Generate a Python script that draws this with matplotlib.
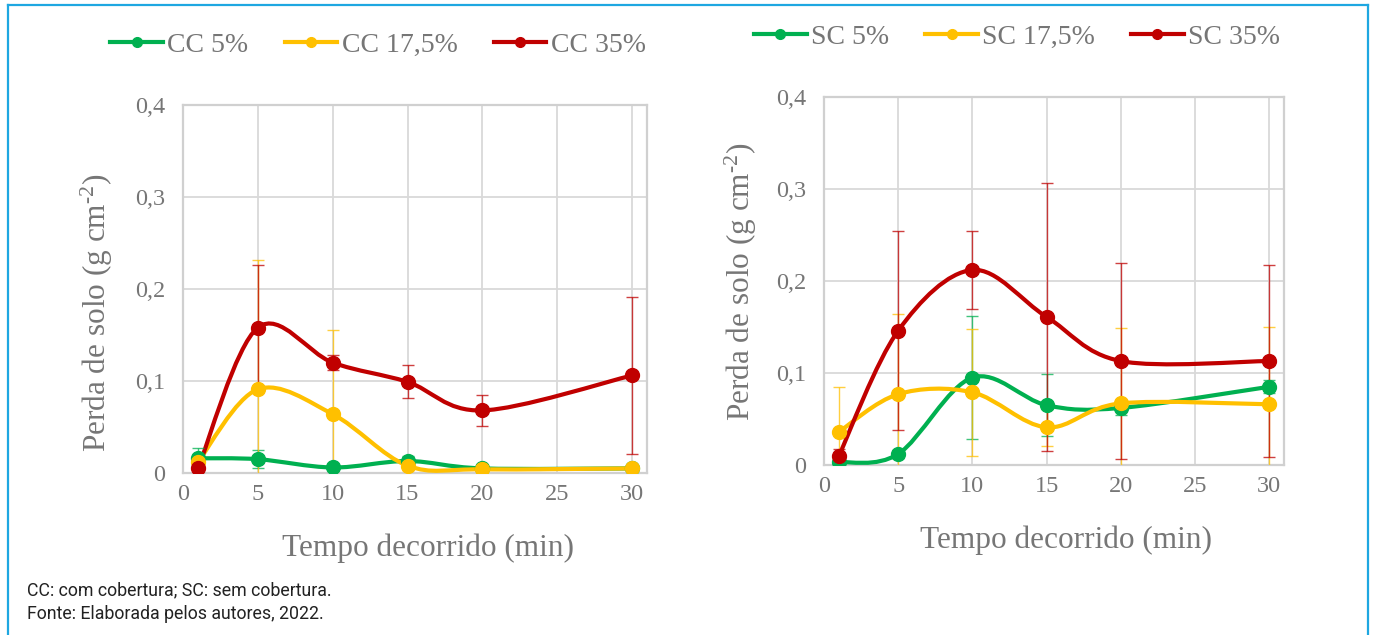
import numpy as np
import matplotlib
matplotlib.use("Agg")
import matplotlib.pyplot as plt
from matplotlib.path import Path
from matplotlib.patches import PathPatch
from matplotlib.lines import Line2D

# ---------- data ----------
TEMPO = [1, 5, 10, 15, 20, 30]

CC_5 = [0.016, 0.015, 0.006, 0.013, 0.005, 0.005]
CC_5_ERR = [0.011, 0.010, 0.002, 0.005, 0.002, 0.002]
CC_175 = [0.012, 0.091, 0.064, 0.008, 0.004, 0.005]
CC_175_ERR = [0.006, 0.141, 0.091, 0.005, 0.002, 0.002]
CC_35 = [0.005, 0.158, 0.120, 0.099, 0.068, 0.106]
CC_35_ERR = [0.003, 0.068, 0.008, 0.018, 0.017, 0.085]

SC_5 = [0.003, 0.012, 0.095, 0.065, 0.062, 0.085]
SC_5_ERR = [0.002, 0.004, 0.067, 0.034, 0.008, 0.007]
SC_175 = [0.036, 0.077, 0.079, 0.041, 0.067, 0.066]
SC_175_ERR = [0.049, 0.087, 0.069, 0.020, 0.082, 0.084]
SC_35 = [0.010, 0.146, 0.212, 0.161, 0.113, 0.113]
SC_35_ERR = [0.007, 0.108, 0.042, 0.146, 0.107, 0.104]

LABELS_CC = ["CC 5%", "CC 17,5%", "CC 35%"]
LABELS_SC = ["SC 5%", "SC 17,5%", "SC 35%"]
COLORS = ["#00B050", "#FFC000", "#C00000"]

X_TICKS = [0, 5, 10, 15, 20, 25, 30]
Y_TICKS = [0, 0.1, 0.2, 0.3, 0.4]
Y_TICKLABELS = ["0", "0,1", "0,2", "0,3", "0,4"]

GREY = "#767676"
SERIF = "Liberation Serif"
plt.rcParams["mathtext.fontset"] = "custom"
plt.rcParams["mathtext.rm"] = SERIF


def smooth_path(xs, ys):
    # excel-like smoothed line: cubic bezier with catmull-rom control points
    pts = np.column_stack([xs, ys]).astype(float)
    n = len(pts)
    verts, codes = [pts[0]], [Path.MOVETO]
    for i in range(n - 1):
        p0 = pts[i - 1] if i > 0 else pts[i]
        p1, p2 = pts[i], pts[i + 1]
        p3 = pts[i + 2] if i + 2 < n else pts[i + 1]
        verts += [p1 + (p2 - p0) / 6, p2 - (p3 - p1) / 6, p2]
        codes += [Path.CURVE4] * 3
    return Path(verts, codes)


def draw_panel(ax, series, errs):
    for k, (ys, es) in enumerate(zip(series, errs)):
        c = COLORS[k]
        ax.add_patch(PathPatch(smooth_path(TEMPO, ys), fill=False, edgecolor=c,
                               lw=3.0, zorder=3 + k, capstyle="round"))
        ax.errorbar(TEMPO, ys, yerr=es, fmt="none", ecolor=c, elinewidth=1.0,
                    capsize=4.3, capthick=1.0, alpha=0.75, zorder=6 + k)
        ax.plot(TEMPO, ys, "o", color=c, ms=10, zorder=9 + k)
    ax.set_xlim(0, 31)
    ax.set_ylim(0, 0.4)
    ax.set_xticks(X_TICKS)
    ax.set_xticklabels([str(t) for t in X_TICKS], fontfamily=SERIF, fontsize=17.5, color=GREY)
    ax.set_yticks(Y_TICKS)
    ax.set_yticklabels(Y_TICKLABELS, fontfamily=SERIF, fontsize=17.5, color=GREY)
    ax.tick_params(length=0)
    ax.tick_params(axis="y", pad=13)
    ax.tick_params(axis="x", pad=8)
    ax.grid(True, color="#D9D9D9", lw=1.3)
    ax.set_axisbelow(True)
    for s in ax.spines.values():
        s.set_color("#D0D0D0")
        s.set_linewidth(1.6)


def legend_handles(labels):
    return [Line2D([0], [0], color=c, lw=3, marker="o", ms=7, label=l)
            for c, l in zip(COLORS, labels)]


fig = plt.figure(figsize=(13.75, 6.35), dpi=100)
W, H = 1375, 635

axL = fig.add_axes([183 / W, 1 - 473 / H, 464 / W, 368 / H])
axR = fig.add_axes([824 / W, 1 - 465 / H, 460 / W, 368 / H])

draw_panel(axL, [CC_5, CC_175, CC_35], [CC_5_ERR, CC_175_ERR, CC_35_ERR])
draw_panel(axR, [SC_5, SC_175, SC_35], [SC_5_ERR, SC_175_ERR, SC_35_ERR])

ylab = "Perda de solo (g cm$\\mathregular{^{\\text{-}2}}$)"
fig.text(97 / W, 1 - 313 / H, ylab, rotation=90, ha="center", va="center",
         fontfamily=SERIF, fontsize=22.5, color=GREY)
fig.text(741 / W, 1 - 282 / H, ylab, rotation=90, ha="center", va="center",
         fontfamily=SERIF, fontsize=22.5, color=GREY)
fig.text(428 / W, 1 - 548 / H, "Tempo decorrido (min)", ha="center", va="center",
         fontfamily=SERIF, fontsize=22.5, color=GREY)
fig.text(1066 / W, 1 - 540 / H, "Tempo decorrido (min)", ha="center", va="center",
         fontfamily=SERIF, fontsize=22.5, color=GREY)

for handles, cx, cy in [(legend_handles(LABELS_CC), 378, 45),
                        (legend_handles(LABELS_SC), 1017, 37)]:
    leg = fig.legend(handles=handles, loc="center", bbox_to_anchor=(cx / W, 1 - cy / H),
                     ncol=3, frameon=False, handlelength=1.9, handletextpad=0.15,
                     columnspacing=1.3, prop={"family": SERIF, "size": 20})
    for t in leg.get_texts():
        t.set_color(GREY)

fig.text(27 / W, 1 - 590 / H, "CC: com cobertura; SC: sem cobertura.", ha="left", va="center",
         fontfamily="Roboto", fontsize=12.8, color="#222222")
fig.text(27 / W, 1 - 614 / H, "Fonte: Elaborada pelos autores, 2022.", ha="left", va="center",
         fontfamily="Roboto", fontsize=12.8, color="#222222")

# outer frame (open at the bottom)
blue = "#1EA7E1"
fig.add_artist(Line2D([8 / W, 8 / W], [0, 1 - 5 / H], color=blue, lw=1.6))
fig.add_artist(Line2D([8 / W, 1368 / W], [1 - 5 / H, 1 - 5 / H], color=blue, lw=1.6))
fig.add_artist(Line2D([1368 / W, 1368 / W], [0, 1 - 5 / H], color=blue, lw=1.6))

fig.savefig("out.png", dpi=100)
